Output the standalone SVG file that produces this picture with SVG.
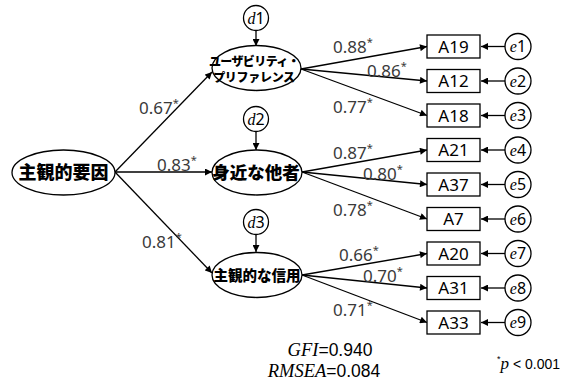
<svg xmlns="http://www.w3.org/2000/svg" width="565" height="387" viewBox="0 0 565 387">
<style>
.sh{fill:#fff;stroke:#000;stroke-width:1.3}
.ln{stroke:#000;stroke-width:1.3;fill:none;marker-end:url(#ah)}
.jp{font-family:"Noto Sans CJK JP","Noto Sans",sans-serif;font-weight:900;fill:#000;text-anchor:middle}
.lb{font-family:"Noto Sans","Open Sans",sans-serif;font-size:17px;fill:#3a3a3a}
.st{font-size:11px}
.it{font-family:"Liberation Serif","DejaVu Serif",serif;font-style:italic}
.nm{font-family:"Noto Sans","Open Sans",sans-serif;font-size:16px;fill:#000;text-anchor:middle}
.rt{font-family:"Noto Sans","Open Sans",sans-serif;font-size:17px;fill:#000;text-anchor:middle}
</style>
<defs>
<marker id="ah" viewBox="0 0 10 10" refX="10" refY="5" markerWidth="8" markerHeight="7" markerUnits="userSpaceOnUse" orient="auto">
<path d="M0,0L10,5L0,10z" fill="#000"/>
</marker>
</defs>
<rect width="565" height="387" fill="#fff"/>
<g id="connectors">
<line class="ln" x1="115" y1="172" x2="212" y2="72"/>
<line class="ln" x1="115" y1="172" x2="212" y2="172"/>
<line class="ln" x1="115" y1="172" x2="212" y2="273"/>
<line class="ln" x1="256" y1="31" x2="256" y2="46"/>
<line class="ln" x1="256" y1="132" x2="256" y2="150"/>
<line class="ln" x1="256" y1="235" x2="256" y2="252"/>
<line class="ln" x1="301" y1="69" x2="427" y2="46.5"/>
<line class="ln" x1="301" y1="69" x2="427" y2="81"/>
<line class="ln" x1="301" y1="69" x2="427" y2="115.5"/>
<line class="ln" x1="302" y1="172" x2="427" y2="150"/>
<line class="ln" x1="302" y1="172" x2="427" y2="184.5"/>
<line class="ln" x1="302" y1="172" x2="427" y2="219"/>
<line class="ln" x1="302" y1="275" x2="427" y2="253.5"/>
<line class="ln" x1="302" y1="275" x2="427" y2="288"/>
<line class="ln" x1="302" y1="275" x2="427" y2="322.5"/>
<line class="ln" x1="505" y1="46.5" x2="481" y2="46.5"/>
<line class="ln" x1="505" y1="81" x2="481" y2="81"/>
<line class="ln" x1="505" y1="115.5" x2="481" y2="115.5"/>
<line class="ln" x1="505" y1="150" x2="481" y2="150"/>
<line class="ln" x1="505" y1="184.5" x2="481" y2="184.5"/>
<line class="ln" x1="505" y1="219" x2="481" y2="219"/>
<line class="ln" x1="505" y1="253.5" x2="481" y2="253.5"/>
<line class="ln" x1="505" y1="288" x2="481" y2="288"/>
<line class="ln" x1="505" y1="322.5" x2="481" y2="322.5"/>
</g>
<g id="labels">
<text class="lb" x="139" y="114">0.67<tspan class="st" dy="-7">*</tspan></text>
<text class="lb" x="157" y="171">0.83<tspan class="st" dy="-7">*</tspan></text>
<text class="lb" x="142" y="248">0.81<tspan class="st" dy="-7">*</tspan></text>
<text class="lb" x="333" y="53">0.88<tspan class="st" dy="-7">*</tspan></text>
<text class="lb" x="367" y="77">0.86<tspan class="st" dy="-7">*</tspan></text>
<text class="lb" x="333" y="113">0.77<tspan class="st" dy="-7">*</tspan></text>
<text class="lb" x="333" y="159">0.87<tspan class="st" dy="-7">*</tspan></text>
<text class="lb" x="363" y="180">0.80<tspan class="st" dy="-7">*</tspan></text>
<text class="lb" x="333" y="216">0.78<tspan class="st" dy="-7">*</tspan></text>
<text class="lb" x="339" y="261">0.66<tspan class="st" dy="-7">*</tspan></text>
<text class="lb" x="363" y="282">0.70<tspan class="st" dy="-7">*</tspan></text>
<text class="lb" x="333" y="316">0.71<tspan class="st" dy="-7">*</tspan></text>
</g>
<g id="n-main"><ellipse class="sh" cx="63.5" cy="172.5" rx="51.5" ry="22.5"/><text class="jp" x="63.5" y="179" font-size="18">主観的要因</text></g>
<g id="n-f1"><ellipse class="sh" cx="256.5" cy="68" rx="44.5" ry="22.5"/><text class="jp" x="254" y="66" font-size="12" letter-spacing="-0.6">ユーザビリティ・</text><text class="jp" x="254" y="82" font-size="12" letter-spacing="-0.3">プリファレンス</text></g>
<g id="n-f2"><ellipse class="sh" cx="257" cy="172.5" rx="45" ry="22.5"/><text class="jp" x="256" y="179" font-size="17.5">身近な他者</text></g>
<g id="n-f3"><ellipse class="sh" cx="257" cy="275" rx="45" ry="22.5"/><text class="jp" x="257" y="281" font-size="14.5">主観的な信用</text></g>
<g id="n-d1"><circle class="sh" cx="256" cy="18" r="12.5"/><text class="nm" x="256" y="23.5"><tspan class="it">d</tspan>1</text></g>
<g id="n-d2"><circle class="sh" cx="256" cy="119" r="12.5"/><text class="nm" x="256" y="124.5"><tspan class="it">d</tspan>2</text></g>
<g id="n-d3"><circle class="sh" cx="256" cy="222" r="12.5"/><text class="nm" x="256" y="227.5"><tspan class="it">d</tspan>3</text></g>
<g id="n-A19"><rect class="sh" x="427" y="35" width="53" height="23"/><text class="rt" x="453.5" y="52.5">A19</text></g>
<g id="n-A12"><rect class="sh" x="427" y="69.5" width="53" height="23"/><text class="rt" x="453.5" y="87">A12</text></g>
<g id="n-A18"><rect class="sh" x="427" y="104" width="53" height="23"/><text class="rt" x="453.5" y="121.5">A18</text></g>
<g id="n-A21"><rect class="sh" x="427" y="138.5" width="53" height="23"/><text class="rt" x="453.5" y="156">A21</text></g>
<g id="n-A37"><rect class="sh" x="427" y="173" width="53" height="23"/><text class="rt" x="453.5" y="190.5">A37</text></g>
<g id="n-A7"><rect class="sh" x="427" y="207.5" width="53" height="23"/><text class="rt" x="453.5" y="225">A7</text></g>
<g id="n-A20"><rect class="sh" x="427" y="242" width="53" height="23"/><text class="rt" x="453.5" y="259.5">A20</text></g>
<g id="n-A31"><rect class="sh" x="427" y="276.5" width="53" height="23"/><text class="rt" x="453.5" y="294">A31</text></g>
<g id="n-A33"><rect class="sh" x="427" y="311" width="53" height="23"/><text class="rt" x="453.5" y="328.5">A33</text></g>
<g id="n-e1"><circle class="sh" cx="518" cy="46.5" r="13"/><text class="nm" x="518" y="52"><tspan class="it">e</tspan>1</text></g>
<g id="n-e2"><circle class="sh" cx="518" cy="81" r="13"/><text class="nm" x="518" y="86.5"><tspan class="it">e</tspan>2</text></g>
<g id="n-e3"><circle class="sh" cx="518" cy="115.5" r="13"/><text class="nm" x="518" y="121"><tspan class="it">e</tspan>3</text></g>
<g id="n-e4"><circle class="sh" cx="518" cy="150" r="13"/><text class="nm" x="518" y="155.5"><tspan class="it">e</tspan>4</text></g>
<g id="n-e5"><circle class="sh" cx="518" cy="184.5" r="13"/><text class="nm" x="518" y="190"><tspan class="it">e</tspan>5</text></g>
<g id="n-e6"><circle class="sh" cx="518" cy="219" r="13"/><text class="nm" x="518" y="224.5"><tspan class="it">e</tspan>6</text></g>
<g id="n-e7"><circle class="sh" cx="518" cy="253.5" r="13"/><text class="nm" x="518" y="259"><tspan class="it">e</tspan>7</text></g>
<g id="n-e8"><circle class="sh" cx="518" cy="288" r="13"/><text class="nm" x="518" y="293.5"><tspan class="it">e</tspan>8</text></g>
<g id="n-e9"><circle class="sh" cx="518" cy="322.5" r="13"/><text class="nm" x="518" y="328"><tspan class="it">e</tspan>9</text></g>
<g id="fit" font-family="Liberation Sans,Arial,sans-serif" font-size="17.5" fill="#000">
<text x="330" y="356" text-anchor="middle"><tspan class="it" font-size="18.5">GFI</tspan>=0.940</text>
<text x="324" y="377" text-anchor="middle"><tspan class="it" font-size="18.5">RMSEA</tspan>=0.084</text>
<text x="560" y="369" font-size="14" text-anchor="end"><tspan font-size="9" dy="-7">*</tspan><tspan class="it" font-size="17" dy="7">p</tspan> &lt; 0.001</text>
</g>
</svg>
